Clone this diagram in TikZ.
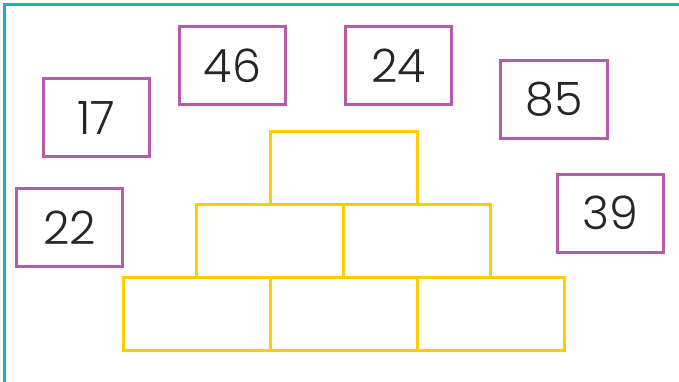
\documentclass[tikz,border=0pt]{standalone}
\usepackage{fontspec}
\setmainfont{Poppins}[UprightFont=* Light]
\definecolor{frameteal}{RGB}{22,180,194}
\definecolor{boxmag}{RGB}{181,91,168}
\definecolor{brickyel}{RGB}{255,204,0}
\begin{document}
\begin{tikzpicture}[x=1pt,y=-1pt,
  numbox/.style={draw=boxmag,line width=3pt,minimum width=106.5pt,minimum height=78pt,inner sep=0pt,
    font=\fontsize{46}{46}\selectfont,text=black!85},
  brick/.style={draw=brickyel,line width=3pt,minimum width=147pt,minimum height=73pt,inner sep=0pt}]
\useasboundingbox (0,0) rectangle (679,382);
\draw[frameteal,line width=3pt] (4.5,382) -- (4.5,4.5) -- (679,4.5);
% bricks
\node[brick] (b31) at (196.5,314) {};
\node[brick] (b32) at (343.5,314) {};
\node[brick] (b33) at (490.5,314) {};
\node[brick] (b21) at (270,241) {};
\node[brick] (b22) at (417,241) {};
\node[brick] (b11) at (343.5,168) {};
% number boxes
\node[numbox] (n17) at (96.5,118) {17};
\node[numbox] (n46) at (232.5,65.5) {46};
\node[numbox] (n24) at (398.5,65.5) {24};
\node[numbox] (n85) at (554,99.5) {85};
\node[numbox] (n39) at (610.5,213) {39};
\node[numbox] (n22) at (69.5,227.5) {22};
\end{tikzpicture}
\end{document}
